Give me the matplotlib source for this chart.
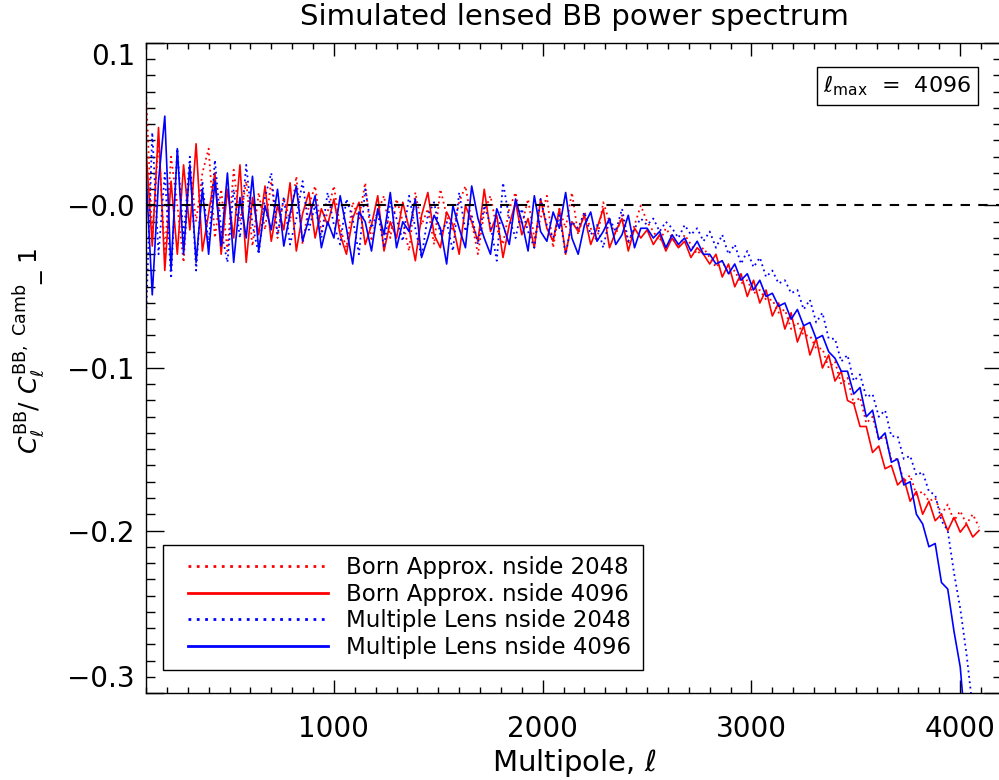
import numpy as np
import matplotlib
matplotlib.use("Agg")
import matplotlib.pyplot as plt
from matplotlib.lines import Line2D
from matplotlib.legend_handler import HandlerLine2D
from matplotlib.ticker import FixedLocator, FixedFormatter, MultipleLocator

# multipole sampling of the curves
ell = np.arange(100, 4091, 30)

# C_l^BB / C_l^BB,camb - 1, in units of 1e-3
born_2048 = np.array([
    70, -20, 40, -30, 30, 0, -35, 25, -10, 20,
    35, -20, 10, -28, 22, -10, 15, -25, 8, -15,
    15, -20, 5, -10, 18, -24, 0, 12, -16, -4,
    12, -14, -26, 2, -8, 14, -22, -4, 6, -20,
    4, -10, -28, 8, -12, -2, -24, 10, -6, -16,
    2, 12, -10, -30, -4, 6, -14, -24, -2, 8,
    -12, 4, -20, -8, 6, -26, -2, -14, 8, -18,
    -4, -14, -22, 2, -10, -18, -6, -24, -12, 0,
    -10, -16, -22, -14, -20, -26, -18, -24, -30, -26,
    -32, -38, -34, -42, -40, -48, -46, -54, -52, -58,
    -58, -66, -64, -76, -72, -80, -80, -88, -88, -100,
    -96, -110, -106, -122, -118, -134, -130, -144, -142, -156,
    -156, -170, -166, -178, -176, -182, -180, -190, -184, -194,
    -188, -196, -190, -198]) / 1000.0

born_4096 = np.array([
    35, -25, 48, -40, 15, -30, 25, -15, 38, -28,
    -5, 20, -30, 10, -20, 25, -35, 5, -18, 12,
    -22, 0, -15, 14, -28, -5, 8, -20, -2, -12,
    4, -18, -30, -8, 2, -24, -12, 6, -28, -10,
    -20, 2, -14, -34, -6, 8, -18, -26, -4, -12,
    -30, 0, -10, -22, 10, -16, -6, -32, -12, 2,
    -18, -8, -26, 4, -14, -22, -2, -30, -10, -16,
    -6, -24, -14, -2, -26, -16, -8, -28, -14, -20,
    -15, -24, -18, -28, -20, -26, -22, -32, -26, -30,
    -36, -30, -44, -36, -50, -42, -56, -46, -60, -52,
    -68, -60, -76, -66, -84, -74, -92, -82, -100, -92,
    -108, -102, -120, -122, -136, -136, -152, -148, -162, -160,
    -172, -168, -182, -176, -190, -182, -194, -190, -200, -192,
    -201, -196, -204, -200]) / 1000.0

multi_2048 = np.array([
    -70, 45, -30, 20, -45, 35, -20, 30, -40, 15,
    -25, 28, -15, -35, 10, -20, 25, -12, -30, 5,
    20, -18, 5, -24, -8, 15, -15, 0, -20, 8,
    -12, -24, 4, -8, -30, 10, -14, -4, -26, 2,
    -8, -22, 6, -14, -32, -6, 2, -18, -10, -28,
    8, -16, -6, -24, 0, -12, -34, 14, -8, -20,
    -2, -16, -26, 4, -12, -20, -6, -30, -10, -14,
    -4, -18, -12, -26, -8, -16, -2, -22, -14, -8,
    -12, -8, -16, -10, -14, -20, -12, -18, -14, -22,
    -16, -26, -18, -30, -24, -36, -28, -38, -32, -44,
    -40, -48, -46, -54, -52, -64, -58, -72, -66, -82,
    -82, -96, -92, -108, -104, -118, -116, -130, -126, -142,
    -142, -156, -154, -166, -164, -176, -178, -194, -200, -226,
    -248, -276, -310, -350]) / 1000.0

multi_4096 = np.array([
    20, -55, 15, 55, -40, 35, -30, 25, -35, 10,
    -30, 15, -25, 20, -35, 5, -20, 18, -28, 0,
    -15, 10, -25, -5, 12, -22, -8, 6, -26, -10,
    -20, 6, -14, -36, -4, -10, -28, -2, -18, 8,
    -26, -10, -16, 4, -32, -20, -6, -14, -36, 0,
    -14, -26, 12, -8, -20, -30, -2, -12, -24, 4,
    -10, -28, 6, -16, -22, -4, -14, 8, -20, -30,
    -12, -4, -22, -16, -8, -24, -18, -6, -26, -14,
    -14, -20, -16, -26, -18, -24, -20, -28, -22, -30,
    -30, -36, -34, -42, -36, -46, -42, -52, -46, -56,
    -54, -62, -60, -70, -64, -74, -72, -82, -80, -90,
    -94, -102, -102, -116, -112, -130, -126, -144, -140, -158,
    -156, -172, -170, -190, -196, -210, -208, -232, -236, -262,
    -284, -330, -370, -410]) / 1000.0

labels = ["Born Approx. nside 2048", "Born Approx. nside 4096",
          "Multiple Lens nside 2048", "Multiple Lens nside 4096"]
ytick_vals = [-0.3, -0.2, -0.1, 0.0, 0.1]
ytick_text = ["\u22120.3", "\u22120.2", "\u22120.1", "\u22120.0", "0.1"]
xtick_vals = [1000, 2000, 3000, 4000]

plt.rcParams["font.family"] = "DejaVu Sans"
plt.rcParams["mathtext.fontset"] = "dejavusans"

fig = plt.figure(figsize=(9.99, 7.8), dpi=100)
ax = fig.add_axes([146 / 999, 87 / 780, 856 / 999, 650 / 780])

dot = (0, (1, 2))
ax.plot(ell, born_2048, color="red", ls=dot, lw=1.3, label=labels[0])
ax.plot(ell, born_4096, color="red", ls="-", lw=1.2, label=labels[1])
ax.plot(ell, multi_2048, color="blue", ls=dot, lw=1.3, label=labels[2])
ax.plot(ell, multi_4096, color="blue", ls="-", lw=1.2, label=labels[3])

ax.axhline(0.0, color="black", ls=(0, (4.5, 4)), lw=1.5, zorder=5)

ax.set_xlim(100, 4200)
ax.set_ylim(-0.3, 0.1)

ax.xaxis.set_major_locator(FixedLocator(xtick_vals))
ax.xaxis.set_minor_locator(MultipleLocator(100))
ax.yaxis.set_major_locator(FixedLocator(ytick_vals))
ax.yaxis.set_major_formatter(FixedFormatter(ytick_text))
ax.yaxis.set_minor_locator(MultipleLocator(0.01))

ax.tick_params(axis="both", which="both", direction="in", top=True, right=True,
               color="black", width=1.0)
ax.tick_params(axis="x", which="major", length=9.5, pad=16, labelsize=20)
ax.tick_params(axis="x", which="minor", length=4.3)
ax.tick_params(axis="y", which="major", length=13, pad=8, labelsize=20)
ax.tick_params(axis="y", which="minor", length=6.5)
for s in ax.spines.values():
    s.set_linewidth(1.0)

yl = ax.get_yticklabels()
yl[0].set_va("bottom")
yl[-1].set_va("top")

ax.set_title("Simulated lensed BB power spectrum", fontsize=21, pad=13)
ax.set_xlabel(r"Multipole, $\ell$", fontsize=21, labelpad=3)
ax.set_ylabel(r"$C_\ell^{\rm BB}/\ C_\ell^{\rm BB,\ Camb}\_\ 1$", fontsize=18)
ax.yaxis.set_label_coords(-0.116, 0.526)

leg = ax.legend(loc="upper left", bbox_to_anchor=(163 / 999, 1 - 545 / 780),
                bbox_transform=fig.transFigure, fontsize=16.5, frameon=True,
                fancybox=False, edgecolor="black", framealpha=1,
                handlelength=6.7, handletextpad=0.79, labelspacing=0.15,
                borderpad=0.5, borderaxespad=0,
                handler_map={Line2D: HandlerLine2D(xpad=0.6)})
leg.get_frame().set_linewidth(1.0)
for ln in leg.get_lines():
    ln.set_linewidth(2.0)

ax.text(0.878, 0.934, r"$\ell_{\rm max}$  =  4096", transform=ax.transAxes,
        fontsize=16, ha="center", va="center",
        bbox=dict(boxstyle="square,pad=0.3", fc="white", ec="black", lw=1.0))

fig.savefig("out.png", dpi=100)
